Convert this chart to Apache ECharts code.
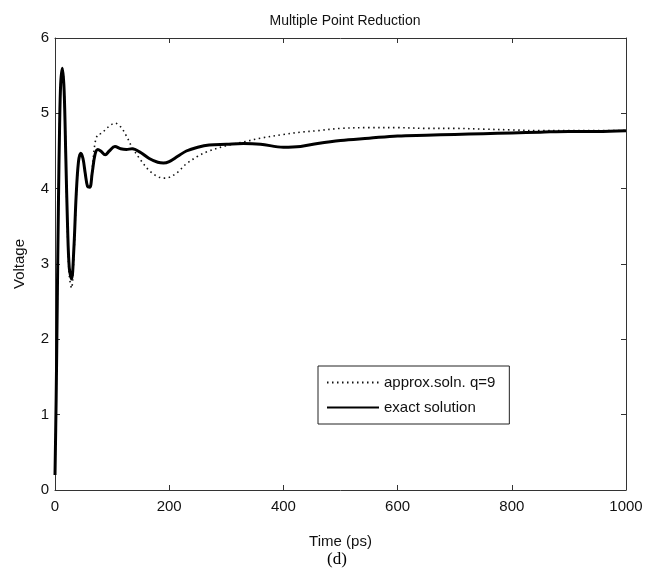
<!DOCTYPE html>
<html>
<head>
<meta charset="utf-8">
<script src="https://cdn.jsdelivr.net/npm/echarts@6/dist/echarts.min.js"></script>
<style>html,body{margin:0;padding:0;background:#fff}#c{width:650px;height:579px}</style>
</head>
<body>
<div id="c"></div>
<script>
const titleText = "Multiple Point Reduction";
const xName = "Time (ps)";
const yName = "Voltage";
const caption = "(d)";
const seriesNames = ["approx.soln. q=9", "exact solution"];
const xTicks = [0, 200, 400, 600, 800, 1000];
const yTicks = [0, 1, 2, 3, 4, 5, 6];

const time = [0, 2, 4, 6, 8, 10, 13, 16, 19, 22, 25, 29, 33, 37, 41, 45, 49, 53, 57, 61, 65, 70, 75, 80, 88, 95, 105, 115, 125, 135, 150, 165, 180, 190, 200, 215, 230, 250, 270, 300, 330, 360, 400, 430, 460, 500, 550, 600, 650, 700, 750, 800, 850, 900, 950, 1000];
const exact = [0.2, 1.2, 2.5, 3.8, 4.8, 5.4, 5.6, 5.3, 4.4, 3.5, 2.95, 2.8, 3.2, 3.9, 4.35, 4.47, 4.4, 4.2, 4.03, 4.02, 4.2, 4.45, 4.52, 4.5, 4.45, 4.5, 4.56, 4.53, 4.52, 4.53, 4.48, 4.4, 4.35, 4.34, 4.36, 4.43, 4.5, 4.55, 4.58, 4.59, 4.6, 4.59, 4.55, 4.56, 4.6, 4.64, 4.67, 4.7, 4.71, 4.72, 4.73, 4.74, 4.75, 4.76, 4.76, 4.77];
const approx = [0.2, 1.2, 2.5, 3.8, 4.8, 5.4, 5.6, 5.3, 4.4, 3.4, 2.85, 2.68, 3.1, 3.85, 4.35, 4.47, 4.4, 4.2, 4.03, 4.02, 4.25, 4.6, 4.72, 4.73, 4.78, 4.83, 4.87, 4.82, 4.7, 4.55, 4.38, 4.24, 4.16, 4.14, 4.15, 4.22, 4.33, 4.43, 4.5, 4.57, 4.62, 4.67, 4.72, 4.75, 4.77, 4.8, 4.81, 4.81, 4.8, 4.8, 4.79, 4.78, 4.77, 4.77, 4.77, 4.77];

const font = "Liberation Sans, Arial, sans-serif";
const chart = echarts.init(document.getElementById('c'), null, {renderer: 'canvas'});
const pairs = (ys) => time.map((t, i) => [t, ys[i]]);
const axisLine = {show: true, onZero: false, lineStyle: {color: '#333', width: 1}};
const tickInside = {show: true, inside: true, length: 5, lineStyle: {color: '#333'}};

chart.setOption({
  animation: false,
  backgroundColor: '#fff',
  title: {
    text: titleText, left: 340, top: 9, textAlign: 'center',
    textStyle: {fontFamily: font, fontSize: 14, fontWeight: 'normal', color: '#111'}
  },
  grid: {left: 55, right: 24, top: 38, bottom: 89, show: false},
  legend: {
    left: 318, top: 366, width: 190, orient: 'vertical',
    backgroundColor: '#fff', borderColor: '#222', borderWidth: 1,
    padding: [9, 14, 9, 8], itemGap: 10, itemWidth: 52, itemHeight: 12,
    itemStyle: {opacity: 0},
    textStyle: {fontFamily: font, fontSize: 15, color: '#111'},
    data: seriesNames
  },
  xAxis: [{
    type: 'value', min: xTicks[0], max: xTicks[xTicks.length - 1], interval: 200,
    position: 'bottom',
    name: xName, nameLocation: 'middle', nameGap: 44,
    nameTextStyle: {fontFamily: font, fontSize: 15, color: '#111'},
    axisLine: axisLine, axisTick: tickInside, splitLine: {show: false},
    axisLabel: {fontFamily: font, fontSize: 15, color: '#111', margin: 9, formatter: (v) => String(v)}
  }, {
    type: 'value', min: xTicks[0], max: xTicks[xTicks.length - 1], interval: 200,
    position: 'top',
    axisLine: axisLine, axisTick: tickInside, splitLine: {show: false},
    axisLabel: {show: false}
  }],
  yAxis: [{
    type: 'value', min: yTicks[0], max: yTicks[yTicks.length - 1], interval: 1,
    position: 'left',
    name: yName, nameLocation: 'middle', nameGap: 28,
    nameTextStyle: {fontFamily: font, fontSize: 15, color: '#111'},
    axisLine: axisLine, axisTick: tickInside, splitLine: {show: false},
    axisLabel: {fontFamily: font, fontSize: 15, color: '#111', margin: 6}
  }, {
    type: 'value', min: yTicks[0], max: yTicks[yTicks.length - 1], interval: 1,
    position: 'right',
    axisLine: axisLine, axisTick: tickInside, splitLine: {show: false},
    axisLabel: {show: false}
  }],
  series: [{
    name: seriesNames[0], type: 'line', data: pairs(approx),
    showSymbol: false, symbol: 'none', smooth: 0.35,
    lineStyle: {color: '#111', width: 1.6, type: [1.5, 3.5]},
    itemStyle: {color: '#111'}, z: 2
  }, {
    name: seriesNames[1], type: 'line', data: pairs(exact),
    showSymbol: false, symbol: 'none', smooth: 0.35,
    lineStyle: {color: '#000', width: 3},
    itemStyle: {color: '#000'}, z: 3
  }],
  graphic: [{
    type: 'text', left: 327, top: 551,
    style: {text: caption, font: '17px "Liberation Serif", "Times New Roman", serif', fill: '#000'}
  }]
});
</script>
</body>
</html>
